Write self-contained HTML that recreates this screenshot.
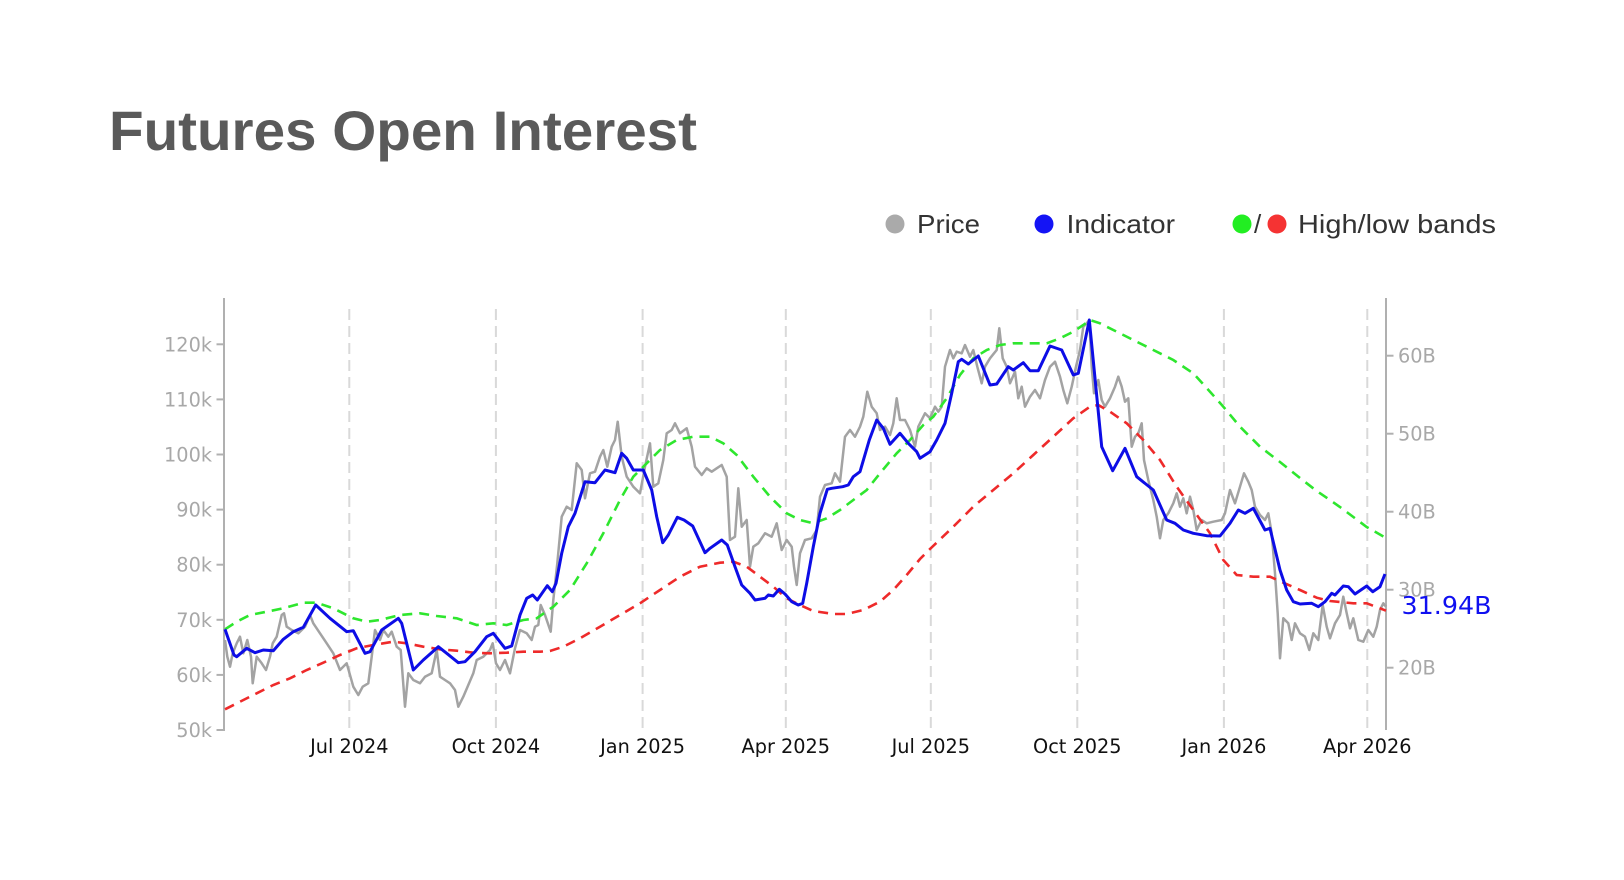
<!DOCTYPE html>
<html>
<head>
<meta charset="utf-8">
<style>
  html, body { margin: 0; padding: 0; background: #ffffff; }
  body { width: 1624px; height: 880px; overflow: hidden; }
  svg { display: block; }
</style>
</head>
<body>
<svg width="1624" height="880" viewBox="0 0 1624 880" xmlns="http://www.w3.org/2000/svg">
  <rect width="1624" height="880" fill="#ffffff"/>

  <!-- Title -->
  <text x="109" y="150" font-family="Liberation Sans, Arial, sans-serif" font-weight="bold" font-size="56" fill="#5a5a5a" textLength="588" lengthAdjust="spacingAndGlyphs">Futures Open Interest</text>

  <!-- Legend -->
  <g font-family="Liberation Sans, Arial, sans-serif" font-size="26" fill="#333333">
    <circle cx="895" cy="224" r="9.5" fill="#aaaaaa"/>
    <text x="917" y="233" textLength="63" lengthAdjust="spacingAndGlyphs">Price</text>
    <circle cx="1044" cy="224" r="9.5" fill="#1414f5"/>
    <text x="1066.5" y="233" textLength="108.5" lengthAdjust="spacingAndGlyphs">Indicator</text>
    <circle cx="1242" cy="224" r="9.5" fill="#22ee22"/>
    <text x="1254" y="233">/</text>
    <circle cx="1277" cy="224" r="9.5" fill="#f53333"/>
    <text x="1298" y="233" textLength="198" lengthAdjust="spacingAndGlyphs">High/low bands</text>
  </g>

  <!-- Vertical dashed gridlines -->
  <g stroke="#d9d9d9" stroke-width="2" stroke-dasharray="11,6">
    <line x1="349.3" y1="309" x2="349.3" y2="730"/>
    <line x1="495.9" y1="309" x2="495.9" y2="730"/>
    <line x1="642.6" y1="309" x2="642.6" y2="730"/>
    <line x1="785.8" y1="309" x2="785.8" y2="730"/>
    <line x1="930.8" y1="309" x2="930.8" y2="730"/>
    <line x1="1077.3" y1="309" x2="1077.3" y2="730"/>
    <line x1="1223.9" y1="309" x2="1223.9" y2="730"/>
    <line x1="1367.3" y1="309" x2="1367.3" y2="730"/>
  </g>

  <!-- Axes -->
  <g stroke="#b0b0b0" stroke-width="2">
    <line x1="224" y1="298" x2="224" y2="731"/>
    <line x1="1386" y1="298" x2="1386" y2="730"/>
    <line x1="216.5" y1="344.3" x2="224" y2="344.3"/>
    <line x1="216.5" y1="399.4" x2="224" y2="399.4"/>
    <line x1="216.5" y1="454.5" x2="224" y2="454.5"/>
    <line x1="216.5" y1="509.6" x2="224" y2="509.6"/>
    <line x1="216.5" y1="564.7" x2="224" y2="564.7"/>
    <line x1="216.5" y1="619.8" x2="224" y2="619.8"/>
    <line x1="216.5" y1="674.9" x2="224" y2="674.9"/>
    <line x1="216.5" y1="730" x2="224" y2="730"/>
    <line x1="1386" y1="355.7" x2="1393.5" y2="355.7"/>
    <line x1="1386" y1="433.7" x2="1393.5" y2="433.7"/>
    <line x1="1386" y1="511.7" x2="1393.5" y2="511.7"/>
    <line x1="1386" y1="589.7" x2="1393.5" y2="589.7"/>
    <line x1="1386" y1="667.7" x2="1393.5" y2="667.7"/>
  </g>

  <!-- Left tick labels -->
  <g font-family="DejaVu Sans, Verdana, sans-serif" font-size="19.3" fill="#a8a8a8" text-anchor="end">
    <text x="212" y="351.3">120k</text>
    <text x="212" y="406.4">110k</text>
    <text x="212" y="461.5">100k</text>
    <text x="212" y="516.6">90k</text>
    <text x="212" y="571.7">80k</text>
    <text x="212" y="626.8">70k</text>
    <text x="212" y="681.9">60k</text>
    <text x="212" y="737">50k</text>
  </g>

  <!-- Right tick labels -->
  <g font-family="DejaVu Sans, Verdana, sans-serif" font-size="19.3" fill="#a8a8a8">
    <text x="1398" y="362.7">60B</text>
    <text x="1398" y="440.7">50B</text>
    <text x="1398" y="518.7">40B</text>
    <text x="1398" y="596.7">30B</text>
    <text x="1398" y="674.7">20B</text>
  </g>

  <!-- Date labels -->
  <g font-family="DejaVu Sans, Verdana, sans-serif" font-size="19.3" fill="#111111" text-anchor="middle">
    <text x="349.3" y="753">Jul 2024</text>
    <text x="495.9" y="753">Oct 2024</text>
    <text x="642.6" y="753">Jan 2025</text>
    <text x="785.8" y="753">Apr 2025</text>
    <text x="930.8" y="753">Jul 2025</text>
    <text x="1077.3" y="753">Oct 2025</text>
    <text x="1223.9" y="753">Jan 2026</text>
    <text x="1367.3" y="753">Apr 2026</text>
  </g>

  <!-- Price (grey) -->
  <polyline fill="none" stroke="#a3a3a3" stroke-width="2.5" stroke-linejoin="round" points="225,640 227.3,656.7 230,666.7 232.7,653.3 236.7,643.3 240,636.7 243.3,653.3 247.3,640 251,656.7 252.7,683.3 256.7,656.7 261.7,663.3 266,670 270,656.7 272.7,643.3 276.7,636.7 281.7,615 284,613.3 286.7,626.7 291.7,630 298.3,633.3 305,626.7 310,615 313.3,623.3 320,633.3 326.7,643.3 333.3,653.3 340,670 346.7,663.3 353.3,686.7 358.3,695 362.7,686.7 368.3,683.3 371.7,656.7 375,630 380,640 383.3,630 388.3,636.7 391.7,631.7 396.7,646.7 400.7,650 405,706.7 408.3,673.3 413.3,680 420,683.3 425,676.7 431.7,673.3 436.7,650 440,676.7 445,680 450,683.3 455,690 458.3,706.7 463.3,696.7 468.3,685 473.3,673.3 476.7,660 483.3,656.7 490,650 492.7,643.3 496,663.3 500,670 505,660 510,673.3 515,648.3 520,630 526.7,633.3 531.7,640 535,626.7 538.3,625 540.7,605 545,615 550.7,631.7 553.3,600 557.3,563.3 561.7,516.7 566.7,506.7 571.7,510 576.7,463.3 581.7,470 585,498.3 590,473.3 595,471.7 600,456.7 603.3,450 607.3,466.7 611.7,446.7 615,440 617.7,421.7 621.7,456.7 626.7,476.7 633.3,486.7 640,493.3 645,466.7 650,443.3 653.3,486.7 658.3,483.3 663.3,460 666.7,433.3 671.7,430 675,423.3 680,433.3 686.7,428.3 691.7,446.7 695,466.7 701.7,475 706.7,468.3 711.7,471.7 716.7,468.3 721.7,465 726.7,476.7 730,540 735,536.7 738.3,488.3 741.7,526.7 746.7,520 750,566.7 753.3,546.7 758.3,543.3 765,533.3 771.7,536.7 776.7,523.3 781.7,550 786.7,540 791.7,546.7 794,566.7 796.7,585 800,553.3 805,540 811.7,538.3 816.7,530 820,496.7 825,485 831.7,483.3 835,473.3 840,481.7 845,436.7 850,430 855,436.7 860,426.7 863.3,416.7 867.3,391.7 871.7,406.7 876.7,413.3 880,430 885,426.7 890,435 893.3,423.3 896.7,398.3 900,420 905,420 910,430 915,446.7 918.3,426.7 925,413.3 930,418.3 935,406.7 938.3,411.7 941.7,406.7 945,366.7 950,350 953.3,358.3 956.7,351.7 961.7,353.3 965,345 970,356.7 973.3,350 977.3,366.7 981.7,383.3 985,366.7 990,358.3 994,353.3 996.7,350 999.3,328.3 1002.7,358.3 1006.7,366.7 1010,383.3 1015,371.7 1018.3,398.3 1021.7,386.7 1025,406.7 1030,396.7 1035,390 1040,398.3 1045,380 1050,366.7 1055,361.7 1060,376.7 1063.3,390 1067.3,403.3 1071.7,386.7 1076,366.7 1080,350 1083.3,326.7 1086.7,323.3 1089.3,320 1091.7,366.7 1094,393.3 1098.3,380 1101.7,400 1105,406.7 1110,398.3 1115,386.7 1118.3,376.7 1121.7,386.7 1125,401.7 1128.3,398.3 1131.7,446.7 1135,436.7 1138.3,433.3 1141.7,423.3 1144,460 1148.3,480 1153.3,500 1156.7,516.7 1160,538.3 1163.3,520 1168.3,513.3 1173.3,503.3 1176.7,493.3 1180,506.7 1183.3,498.3 1186.7,513.3 1190,496.7 1193.3,510 1196.7,530 1201.7,520 1206.7,523.3 1213.3,521.7 1221.7,520 1225,513.3 1230,490 1235,503.3 1240,486.7 1244,473.3 1248.3,481.7 1251.7,490 1255,506.7 1260,515 1265,520 1268.3,513.3 1271.7,533.3 1275,573.3 1277.7,613.3 1280,658.3 1283.3,618.3 1288.3,623.3 1291.7,640 1295,623.3 1300,633.3 1305,636.7 1309.3,650 1313.3,633.3 1318.3,640 1322.7,605 1326.7,626.7 1330,638.3 1335,623.3 1340,615 1343.3,596.7 1346.7,613.3 1350,628.3 1353.3,618.3 1358.3,640 1363.3,641.7 1368.3,630 1373.3,636.7 1376.7,626.7 1380,610 1383.3,603.3 1386,606.7"/>

  <!-- High band (green dashed) -->
  <polyline fill="none" stroke="#2ee62e" stroke-width="2.6" stroke-dasharray="10,7" points="225,629.3 236.7,621.7 250,615 266.7,611.7 283.3,608.3 303.3,602.7 316.7,602.7 333.3,608.3 353.3,618.3 366.7,621.7 380,620 400,615 420,613.3 436.7,616 456.7,618.3 476.7,625 493.3,623.3 506.7,625 523.3,620 536.7,618.3 553.3,606.7 570,590 586.7,563.3 603.3,533.3 620,500 633.3,476.7 646.7,463.3 660,450 676.7,440 693.3,436.7 710,436.7 723.3,443.3 736.7,455 753.3,476.7 770,496.7 786.7,513.3 800,520 813.3,523.3 826.7,518.3 840,510 853.3,500 866.7,490 880,473.3 896.7,453.3 910,440 923.3,425 933.3,416.7 946.7,398.3 960,375 973.3,358.3 986.7,350 1000,345 1013.3,343.3 1030,343.3 1046.7,343.3 1060,338.3 1073.3,331.7 1083.3,325 1090,320 1100,323.3 1113.3,330 1133.3,340 1153.3,350 1173.3,360 1193.3,373.3 1210,391.7 1223.3,406.7 1240,426.7 1260,446.7 1280,462 1300,478 1316.7,491 1330,500 1340,507 1366.7,527 1386,538"/>

  <!-- Low band (red dashed) -->
  <polyline fill="none" stroke="#ee2a2a" stroke-width="2.6" stroke-dasharray="10,7" points="225,709.3 240,701.7 256.7,693.3 273.3,685 290,678.3 306.7,670 323.3,662.7 340,655 356.7,648.3 373.3,645 393.3,641.7 406.7,643.3 423.3,646.7 440,649.3 456.7,650.7 473.3,652.7 490,653.3 506.7,652.7 523.3,651.7 540,651.7 550,651 563.3,646.7 580,638.3 600,626.7 620,615 640,603.3 660,590 680,576.7 700,566.7 720,562.7 733.3,561.7 746.7,566.7 760,576.7 773.3,586.7 786.7,598.3 800,605 813.3,611 833.3,614 846.7,614 863.3,610 880,601.7 893.3,590 906.7,575 920,559 930,549 953.3,526.7 973.3,506.7 993.3,490 1013.3,473.3 1033.3,455 1053.3,436.7 1073.3,418.3 1090,406.7 1098.3,405 1110,411.7 1126.7,423.3 1143.3,440 1160,460 1176.7,486.7 1193.3,510 1210,533.3 1223.3,560 1236.7,575 1253.3,576.7 1270,576.7 1283.3,582.7 1300,590 1316.7,597.7 1330,601 1353.3,603.3 1366.7,603.3 1380,608.3 1386,610.7"/>

  <!-- Indicator (blue) -->
  <polyline fill="none" stroke="#0d0de6" stroke-width="3" stroke-linejoin="round" points="225,629.3 234,655 236.7,656.7 246.7,648.3 255,652.7 263.3,650 273.3,650.7 283.3,639.3 293.3,631.7 303.3,627.3 315.7,605 330,618.3 346.7,631.7 353.3,630.7 365,653.3 370,651.7 381.7,630 398.3,618.3 401.7,623.3 413.3,670 423.3,660 438.3,646.7 446.7,653.3 458.3,662.7 465,661.7 475,651.7 486.7,636.7 493.3,633.3 505,648.3 511.7,646 520,615 526.7,598.3 532.7,595 537.3,600 547.3,585.7 552.3,591.7 556,583.3 561.7,553.3 568.3,526.7 575,513.3 585,481.7 595,482.7 605,470 615,472.7 621.7,453.3 626.7,458.3 633.3,470 643.3,470 651.7,490 656.7,516.7 662.7,542.7 668.3,535 677.3,517.3 684,520 692.7,526 705,552.7 710,548.3 721.7,540 727.3,545 735,566.7 741.7,585 750,593.3 755,600 765,598.3 768.3,595 773.3,596 779.3,589.3 785,594 791.7,601.7 798.3,605 802.7,603.3 806.7,583.3 813.3,546.7 820,513.3 827.3,489.3 831.7,488.3 842.7,486.7 848.3,485 853.3,476.7 860,471.7 869.3,440 876.7,420 883.3,428.3 890,444.3 900,433.3 908.3,443.3 916.7,451.7 920,458.3 930,451.7 936.7,440 945,423.3 951.7,393.3 958.3,361.7 961.7,359.3 968.3,364 978.3,356 990,385 996.7,384 1008.3,366.7 1013.3,370 1023.3,362.7 1030,370.7 1038.3,370.7 1050,346 1061.7,350 1073.3,375 1078.3,373.3 1089.3,320 1101.7,446.7 1112.7,470.7 1125,448.3 1136.7,476.7 1153.3,490 1166.7,520 1175,523.3 1183.3,530 1193.3,533.3 1206.7,535.7 1220,536 1230,523.3 1238.3,510 1245,513.3 1253.3,508.3 1265,530 1270,528.3 1280,570 1286.7,590 1293.3,601.7 1300,604 1311.7,603.3 1318.3,606.7 1325,601.7 1331.7,593.3 1335,595 1343.3,586 1348.3,586.7 1355,594 1366.7,586 1372.7,591.7 1380,586.7 1385,574"/>

  <!-- Last value label -->
  <text x="1401.5" y="614" font-family="DejaVu Sans, Verdana, sans-serif" font-size="24.5" fill="#1010f0" textLength="90" lengthAdjust="spacingAndGlyphs">31.94B</text>
</svg>
</body>
</html>
